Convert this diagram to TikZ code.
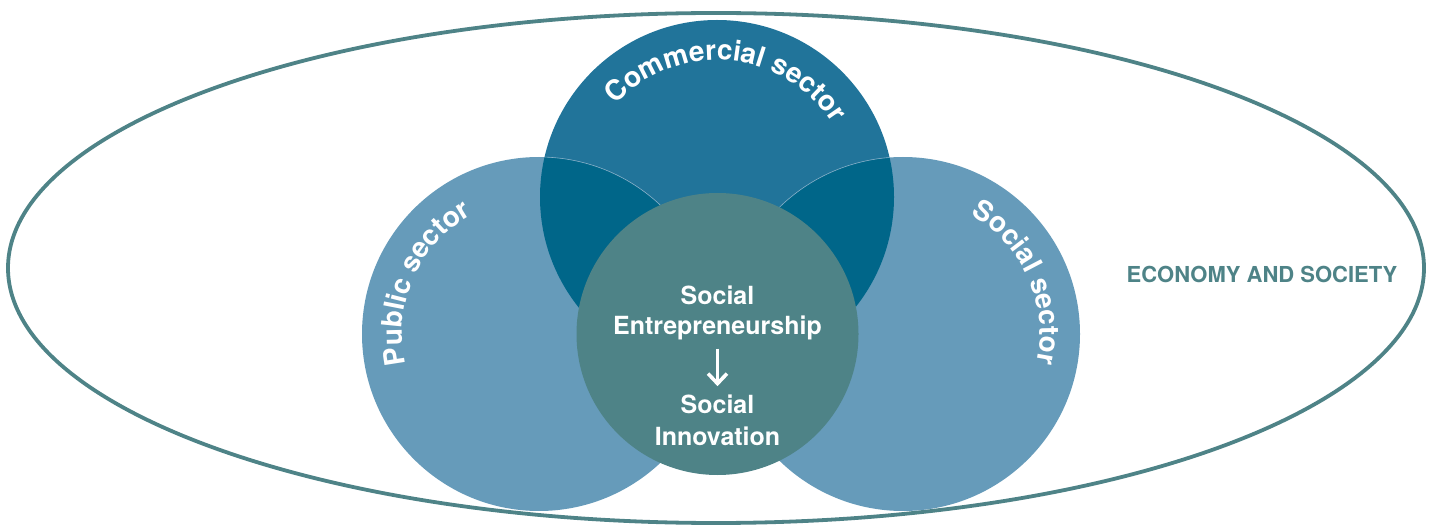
\documentclass[tikz,border=0pt]{standalone}
\usepackage{fontspec}
\setmainfont{TeX Gyre Heros}
\usetikzlibrary{decorations.text,arrows.meta}
\definecolor{commercial}{HTML}{21749A}
\definecolor{sidesector}{HTML}{669BBA}
\definecolor{overlap}{HTML}{006689}
\definecolor{core}{HTML}{4E8387}
\newcommand\sectorfont{\fontsize{28}{28}\selectfont\bfseries\color{white}}
\begin{document}
\begin{tikzpicture}[x=1pt,y=1pt,
  sectorlabel/.style={decorate, decoration={text along path, text align=center, text={#1}}},
  coretext/.style={text=white, font=\fontsize{25}{30}\selectfont\bfseries, inner sep=0pt, anchor=base}]
\useasboundingbox (0,0) rectangle (1437,-526);
% centres of the circles
\coordinate (cc) at (717,-197);
\coordinate (pc) at (539,-334);
\coordinate (sc) at (903,-334);
\coordinate (mc) at (717.5,-334);
\def\R{177}
% economy and society
\draw[core, line width=3.8pt] (716,-268) ellipse [x radius=708, y radius=255];
% sector circles
\fill[commercial] (cc) circle[radius=\R];
\fill[sidesector] (pc) circle[radius=\R] (sc) circle[radius=\R];
\begin{scope}
  \clip (cc) circle[radius=\R];
  \fill[overlap] (pc) circle[radius=\R] (sc) circle[radius=\R];
  \draw[sidesector!80!white, line width=0.6pt] (pc) circle[radius=\R] (sc) circle[radius=\R];
\end{scope}
% social entrepreneurship core
\fill[core] (mc) circle[radius=141];
% curved sector labels
\path[sectorlabel={|\sectorfont|Commercial sector}] (cc) ++(140:137) arc[start angle=140, end angle=30, radius=137];
\path[sectorlabel={|\sectorfont|Public sector}] (pc) ++(202:137) arc[start angle=202, end angle=110, radius=137];
\path[sectorlabel={|\sectorfont|Social sector}] (sc) ++(70:137) arc[start angle=70, end angle=-22, radius=137];
% core texts
\node[coretext] (s1) at (717.5,-305) {Social};
\node[coretext] (s2) at (717.5,-335) {Entrepreneurship};
\node[coretext] (s3) at (717.5,-413) {Social};
\node[coretext] (s4) at (717.5,-445) {Innovation};
\draw[white, line width=3.6pt, -{Straight Barb[length=10pt,width=19pt]}, shorten <=8pt, shorten >=8pt] (s2) -- (s3);
\node[text=core, font=\fontsize{22}{22}\selectfont\bfseries, anchor=base] (eco) at (1262,-283) {ECONOMY AND SOCIETY};
\end{tikzpicture}
\end{document}
